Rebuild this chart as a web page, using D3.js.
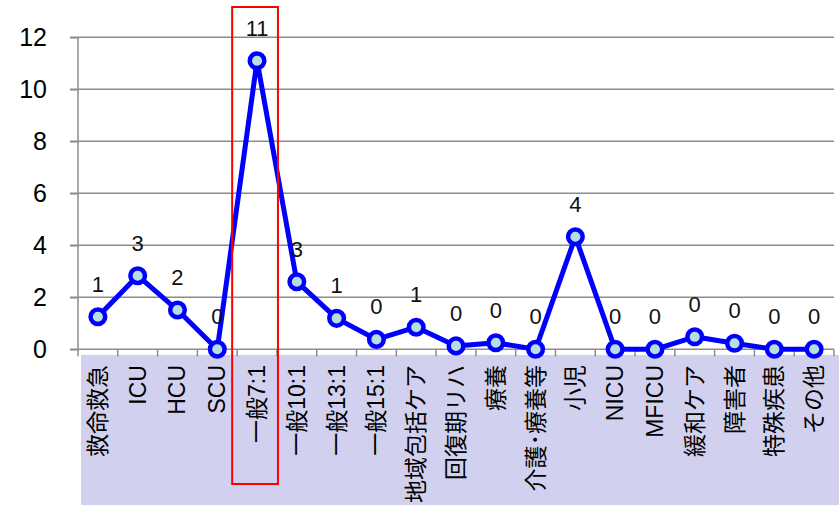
<!DOCTYPE html>
<html><head><meta charset="utf-8">
<script src="https://cdn.jsdelivr.net/npm/d3@7"></script>
<style>body{margin:0;background:#fff}svg{display:block}</style>
</head><body><svg id="c" width="839" height="505"></svg>
<script>
const categories = ["救命救急","ICU","HCU","SCU","一般7:1","一般10:1","一般13:1","一般15:1","地域包括ケア","回復期リハ","療養","介護･療養等","小児","NICU","MFICU","緩和ケア","障害者","特殊疾患","その他"];
const values = [1.25,2.83,1.51,0,11.1,2.6,1.19,0.38,0.85,0.13,0.25,0,4.33,0,0,0.48,0.23,0,0];
const yTicks = [0,2,4,6,8,10,12];
const highlight = "一般7:1";

const svg = d3.select("#c");
const L = 78, R = 834, T = 37.3, B = 349.3;
const x = d3.scaleBand().domain(categories).range([L, R]).padding(0);
const y = d3.scaleLinear().domain([0, 12]).range([B, T]);
const latin = "'Liberation Sans', Arial, 'Noto Sans CJK JP', sans-serif";

// lavender band
svg.append("rect").attr("x", 81).attr("y", 355).attr("width", 839 - 81).attr("height", 150).attr("fill", "#d1d1ef");

// gridlines
svg.append("g").selectAll("line").data(yTicks).join("line")
  .attr("x1", 70).attr("x2", R).attr("y1", d => y(d)).attr("y2", d => y(d))
  .attr("stroke", "#8c8c8c").attr("stroke-width", 1.5);

// y axis
const ya = svg.append("g").attr("transform", `translate(${L},0)`)
  .call(d3.axisLeft(y).tickValues(yTicks).tickSize(8).tickPadding(23).tickFormat(d3.format("d")));
ya.select(".domain").attr("stroke", "#8c8c8c").attr("stroke-width", 1.5).attr("d", `M0,${T}V${B}`);
ya.selectAll(".tick line").attr("stroke", "#8c8c8c").attr("stroke-width", 1.5);
ya.selectAll(".tick text").attr("font-family", latin).attr("font-size", 25).attr("fill", "#000");

// x axis boundary ticks
const bounds = categories.map(c => x(c)).concat([R]);
svg.append("g").selectAll("line").data(bounds).join("line")
  .attr("x1", d => d).attr("x2", d => d).attr("y1", B).attr("y2", B + 7)
  .attr("stroke", "#8c8c8c").attr("stroke-width", 1.5);

// category labels
svg.append("g").selectAll("text").data(categories).join("text")
  .attr("transform", d => `translate(${x(d) + x.bandwidth() / 2},365) rotate(-90)`)
  .attr("text-anchor", "end").attr("dominant-baseline", "central")
  .attr("font-family", latin).attr("font-size", 23).attr("fill", "#000")
  .text(d => d);

// line
const pts = categories.map((c, i) => [x(c) + x.bandwidth() / 2, y(values[i])]);
svg.append("path").attr("d", d3.line()(pts)).attr("fill", "none")
  .attr("stroke", "#0000ff").attr("stroke-width", 5).attr("stroke-linejoin", "round");

svg.append("g").selectAll("circle").data(pts).join("circle")
  .attr("cx", d => d[0]).attr("cy", d => d[1]).attr("r", 7.3)
  .attr("fill", "#b8dfe0").attr("stroke", "#0000ff").attr("stroke-width", 4.5);

// data labels
svg.append("g").selectAll("text").data(categories).join("text")
  .attr("x", (d) => x(d) + x.bandwidth() / 2)
  .attr("y", (d, i) => y(values[i]) - 25)
  .attr("text-anchor", "middle").attr("font-family", latin).attr("font-size", 22).attr("fill", "#111")
  .text((d, i) => Math.round(values[i]));

// highlight box
svg.append("rect").attr("x", x(highlight) - 5).attr("y", 7)
  .attr("width", x.bandwidth() + 6).attr("height", 477)
  .attr("fill", "none").attr("stroke", "#ff0000").attr("stroke-width", 2);
</script></body></html>
